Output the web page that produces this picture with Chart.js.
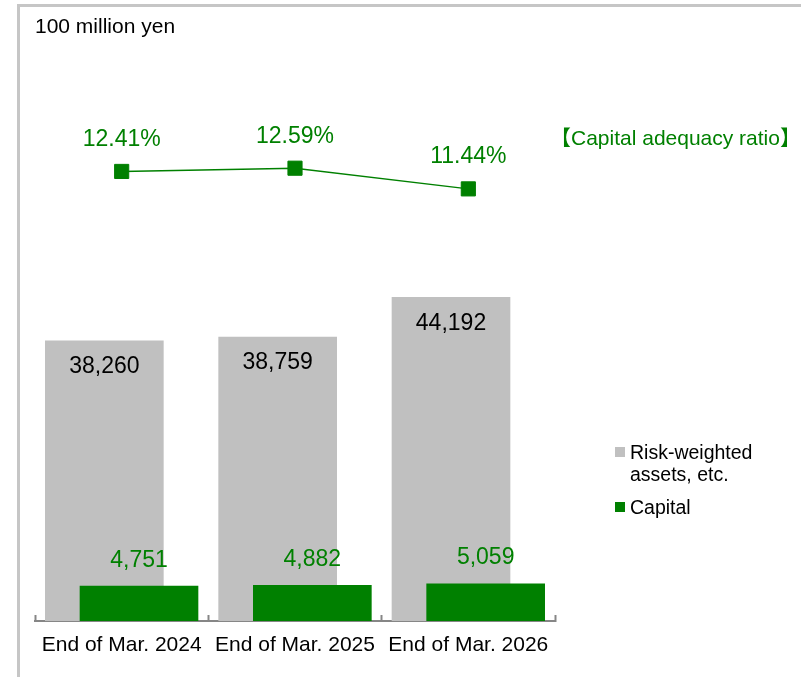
<!DOCTYPE html>
<html>
<head>
<meta charset="utf-8">
<script src="https://cdn.jsdelivr.net/npm/chart.js@4.4.1/dist/chart.umd.min.js"></script>
<style>
  body { margin:0; width:801px; height:677px; overflow:hidden; background:#fff;
         font-family:"Liberation Sans", Arial, "Noto Sans CJK JP", sans-serif; }
  #frame { position:absolute; left:17px; top:4px; right:-10px; bottom:-10px;
           border-left:3px solid #c6c6c6; border-top:3px solid #c6c6c6; }
  #chart { position:absolute; left:0; top:0; }
  .txt { position:absolute; white-space:nowrap; line-height:24px; }
  #unit { left:35px; top:14px; font-size:21px; color:#000; }
  #ratioName { left:550px; top:126px; font-size:21px; color:#008000; }
  #legend { position:absolute; left:615px; top:441px; font-size:19.5px; line-height:22px; color:#000; }
  .item { display:flex; align-items:flex-start; margin-bottom:11px; }
  .box { width:10px; height:10px; margin-top:6px; margin-right:5px; flex:none; }
  .lbl { width:150px; }
</style>
</head>
<body>
<div id="frame"></div>
<canvas id="chart" width="801" height="677"></canvas>
<div class="txt" id="unit">100 million yen</div>
<div class="txt" id="ratioName">【Capital adequacy ratio】</div>
<div id="legend"></div>
<script>
const categories = ['End of Mar. 2024', 'End of Mar. 2025', 'End of Mar. 2026'];
const riskAssets = [38260, 38759, 44192];
const capital = [4751, 4882, 5059];
const adequacyRatio = [12.41, 12.59, 11.44];

const GREEN = '#008000';
const GRAY = '#c0c0c0';

Chart.defaults.font.family = '"Liberation Sans", Arial, sans-serif';

// value labels drawn next to each bar / point
const valueLabels = {
    id: 'valueLabels',
    afterDatasetsDraw(chart){
        const ctx = chart.ctx;
        chart.data.datasets.forEach((ds, di) => {
            const meta = chart.getDatasetMeta(di);
            ctx.save();
            ctx.font = '23px "Liberation Sans", Arial, sans-serif';
            ctx.fillStyle = ds.labelColor;
            ctx.textAlign = 'center';
            ctx.textBaseline = 'middle';
            meta.data.forEach((el, i) => {
                ctx.fillText(ds.fmt(ds.data[i].y), el.x, el.y + ds.labelOffset);
            });
            ctx.restore();
        });
    }
};

const num = v => v.toLocaleString('en-US');

const chart = new Chart(document.getElementById('chart'), {
    type: 'bar',
    data: {
        datasets: [
            {
                label: 'Risk-weighted assets, etc.',
                data: riskAssets.map((v, i) => ({x: i - 0.1, y: v})),
                backgroundColor: GRAY,
                stack: 'bars', barThickness: 118, order: 2,
                labelColor: '#000', labelOffset: 26, fmt: num
            },
            {
                label: 'Capital',
                data: capital.map((v, i) => ({x: i + 0.1, y: v})),
                backgroundColor: GREEN,
                stack: 'bars', barThickness: 118, order: 1,
                labelColor: GREEN, labelOffset: -26, fmt: num
            },
            {
                type: 'line',
                label: 'Capital adequacy ratio',
                data: adequacyRatio.map((v, i) => ({x: i, y: v})),
                yAxisID: 'y2',
                borderColor: GREEN, borderWidth: 1.5,
                pointStyle: 'rect', pointRadius: 10, pointBorderWidth: 1,
                pointBackgroundColor: GREEN, pointBorderColor: GREEN,
                order: 0,
                labelColor: GREEN, labelOffset: -32, fmt: v => v.toFixed(2) + '%'
            }
        ]
    },
    options: {
        responsive: false,
        animation: false,
        layout: { padding: { left: 35, right: 246, top: 35, bottom: 10 } },
        plugins: { legend: { display: false }, tooltip: { enabled: false } },
        scales: {
            x: {
                type: 'linear', min: -0.5, max: 2.5, offset: false,
                afterBuildTicks: s => {
                    const t = [];
                    categories.forEach((c, i) => { t.push({value: i - 0.5}, {value: i}); });
                    t.push({value: categories.length - 0.5});
                    s.ticks = t;
                },
                afterFit: s => { s.height = 46; },
                ticks: {
                    autoSkip: false, maxRotation: 0, padding: 18,
                    color: '#000', font: { size: 21 },
                    callback: v => Number.isInteger(v) ? categories[v] : ''
                },
                grid: {
                    offset: false, drawOnChartArea: false, tickLength: -6, tickWidth: 2,
                    tickColor: c => Number.isInteger(c.tick.value) ? 'rgba(0,0,0,0)' : '#868686'
                },
                border: { color: '#868686', width: 2 }
            },
            y: { display: false, min: 0, max: 80000, stacked: false },
            y2: { display: false, min: -12.6, max: 20 }
        }
    },
    plugins: [valueLabels]
});

// html legend from the bar datasets
let html = '';
chart.data.datasets.forEach(ds => {
    if(ds.type === 'line') return;
    html += `<div class="item"><div class="box" style="background:${ds.backgroundColor}"></div><div class="lbl">${ds.label}</div></div>`;
});
document.getElementById('legend').innerHTML = html;
</script>
</body>
</html>
